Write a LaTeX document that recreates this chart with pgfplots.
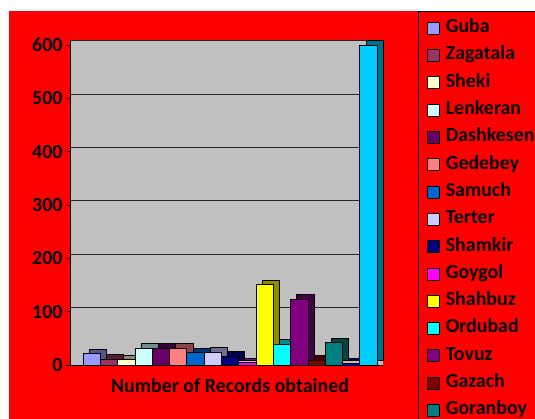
\documentclass[border=0pt]{standalone}
\usepackage{pgfplots}
\pgfplotsset{compat=1.18}
\usepackage{fontspec}
\setmainfont{Carlito}
\definecolor{cGuba}{HTML}{9999FF}
\definecolor{cZagatala}{HTML}{993366}
\definecolor{cSheki}{HTML}{FFFFCC}
\definecolor{cLenkeran}{HTML}{CCFFFF}
\definecolor{cDashkesen}{HTML}{660066}
\definecolor{cGedebey}{HTML}{FF8080}
\definecolor{cSamuch}{HTML}{0066CC}
\definecolor{cTerter}{HTML}{CCCCFF}
\definecolor{cShamkir}{HTML}{000080}
\definecolor{cGoygol}{HTML}{FF00FF}
\definecolor{cShahbuz}{HTML}{FFFF00}
\definecolor{cOrdubad}{HTML}{00FFFF}
\definecolor{cTovuz}{HTML}{800080}
\definecolor{cGazach}{HTML}{800000}
\definecolor{cGoranboy}{HTML}{008080}
\definecolor{cSixteen}{HTML}{0000FF}
\definecolor{cSeventeen}{HTML}{00CCFF}
\definecolor{wallgray}{HTML}{C0C0C0}
\definecolor{bgred}{HTML}{FF0000}
\pgfplotsset{
  lgsq/.style={legend image code/.code={\draw[##1,draw=black,line width=0.6pt] (0bp,-6bp) rectangle (12bp,6bp);}},
}
% #1 shift, #2 colour, #3 value, #4 name
\newcommand{\tdbar}[4]{%
  \addplot[ybar, bar width=17.3bp, bar shift=#1bp+6bp, yshift=4.5bp, fill=#2!55!black, draw=black, line width=0.5pt, forget plot] coordinates {(0,#3)};
  \addplot[ybar, bar width=17.3bp, bar shift=#1bp, fill=#2, draw=black, line width=0.6pt, lgsq] coordinates {(0,#3)};
  \addlegendentry{#4}
}
\newcommand{\tdbarnl}[3]{%
  \addplot[ybar, bar width=17.3bp, bar shift=#1bp+6bp, yshift=4.5bp, fill=#2!55!black, draw=black, line width=0.5pt, forget plot] coordinates {(0,#3)};
  \addplot[ybar, bar width=17.3bp, bar shift=#1bp, fill=#2, draw=black, line width=0.6pt, forget plot] coordinates {(0,#3)};
}
\begin{document}
\begin{tikzpicture}
\useasboundingbox (0,0) rectangle (535bp,419bp);
\fill[white] (0,0) rectangle (535bp,419bp);
\fill[bgred] (9bp,0) rectangle (535bp,408bp);
\begin{axis}[
  at={(70bp,54bp)}, anchor=south west,
  scale only axis, width=313bp, height=324.3bp,
  xmin=-160, xmax=153, ymin=0, ymax=608,
  ytick={100,200,...,600},
  extra y ticks={0},
  extra y tick style={grid=none},
  xtick={0}, xticklabels={Number of Records obtained},
  axis x line*=bottom, axis y line*=left,
  axis line style={black, line width=0.8pt, -},
  tick align=outside, major tick length=4bp,
  x tick style={draw=none},
  y tick style={black, line width=0.8pt},
  xticklabel style={yshift=-6bp},
  ymajorgrids, grid style={black!85, line width=0.6pt, yshift=4.5bp},
  axis background/.style={fill=wallgray},
  tick label style={font=\fontsize{20}{23}\selectfont\bfseries},
  /pgf/number format/assume math mode=true,
  clip=false,
  legend cell align=left,
  legend style={
    at={(axis description cs:1.1406,1.067)}, anchor=north west,
    draw=none, fill=none, inner sep=0pt,
    font=\fontsize{20}{23}\selectfont\bfseries,
    row sep=9.3bp,
    nodes={inner sep=0pt, text height=13.5bp, text depth=4.5bp},
    /tikz/every odd column/.append style={column sep=6bp},
  },
]
\tdbar{-138.4}{cGuba}{22}{Guba}
\tdbar{-121.1}{cZagatala}{11}{Zagatala}
\tdbar{-103.8}{cSheki}{10}{Sheki}
\tdbar{-86.5}{cLenkeran}{32}{Lenkeran}
\tdbar{-69.2}{cDashkesen}{32}{Dashkesen}
\tdbar{-51.9}{cGedebey}{32}{Gedebey}
\tdbar{-34.6}{cSamuch}{23}{Samuch}
\tdbar{-17.3}{cTerter}{24}{Terter}
\tdbar{0}{cShamkir}{17}{Shamkir}
\tdbar{17.3}{cGoygol}{5}{Goygol}
\tdbar{34.6}{cShahbuz}{151}{Shahbuz}
\tdbar{51.9}{cOrdubad}{39}{Ordubad}
\tdbar{69.2}{cTovuz}{124}{Tovuz}
\tdbar{86.5}{cGazach}{9}{Gazach}
\tdbar{103.8}{cGoranboy}{42}{Goranboy}
\tdbarnl{121.1}{cSixteen}{4}
\tdbarnl{138.4}{cSeventeen}{600}
\end{axis}
\draw[black, line width=0.8pt] (418bp,0) -- (418bp,408bp) -- (535bp,408bp);
\end{tikzpicture}
\end{document}
